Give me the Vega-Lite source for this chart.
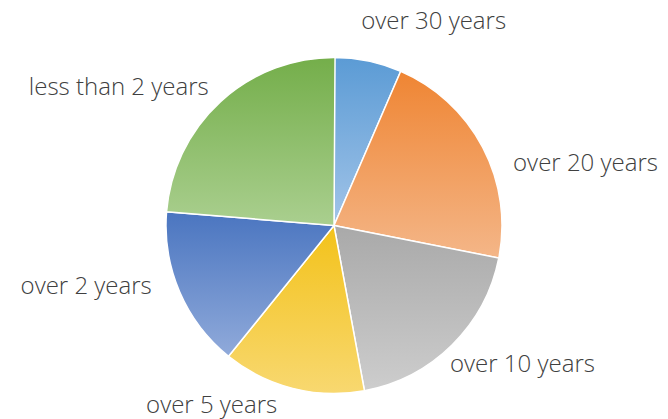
{
  "$schema": "https://vega.github.io/schema/vega-lite/v6.json",
  "width": 668,
  "height": 387,
  "autosize": "none",
  "padding": {"left": 0, "right": 0, "top": 32, "bottom": 0},
  "background": "white",
  "view": {"stroke": null},
  "data": {
    "values": [
      {"label": "over 30 years", "share": 6.5},
      {"label": "over 20 years", "share": 21.6},
      {"label": "over 10 years", "share": 19.0},
      {"label": "over 5 years", "share": 13.7},
      {"label": "over 2 years", "share": 15.5},
      {"label": "less than 2 years", "share": 23.8}
    ]
  },
  "transform": [
    {"window": [{"op": "row_number", "as": "idx"}]},
    {"stack": "share", "groupby": [], "sort": [{"field": "idx", "order": "ascending"}], "as": ["t0", "t1"]},
    {"calculate": "(datum.t0 + datum.t1) / 2", "as": "tm"}
  ],
  "layer": [
    {
      "mark": {"type": "arc", "outerRadius": 168, "stroke": "white", "strokeWidth": 1.5},
      "encoding": {
        "theta": {"field": "t0", "type": "quantitative", "scale": {"domain": [0, 100]}},
        "theta2": {"field": "t1"},
        "fill": {
          "condition": [
            {"test": "datum.label === 'over 30 years'", "value": {"gradient": "linear", "x1": 0, "y1": 0, "x2": 0, "y2": 1, "stops": [{"offset": 0, "color": "#5B9BD5"}, {"offset": 1, "color": "#A2C4E8"}]}},
            {"test": "datum.label === 'over 20 years'", "value": {"gradient": "linear", "x1": 0, "y1": 0, "x2": 0, "y2": 1, "stops": [{"offset": 0, "color": "#EF8533"}, {"offset": 1, "color": "#F4B688"}]}},
            {"test": "datum.label === 'over 10 years'", "value": {"gradient": "linear", "x1": 0, "y1": 0, "x2": 0, "y2": 1, "stops": [{"offset": 0, "color": "#A9A9A9"}, {"offset": 1, "color": "#CDCDCD"}]}},
            {"test": "datum.label === 'over 5 years'", "value": {"gradient": "linear", "x1": 0, "y1": 0, "x2": 0, "y2": 1, "stops": [{"offset": 0, "color": "#F3C21A"}, {"offset": 1, "color": "#F8D870"}]}},
            {"test": "datum.label === 'over 2 years'", "value": {"gradient": "linear", "x1": 0, "y1": 0, "x2": 0, "y2": 1, "stops": [{"offset": 0, "color": "#4A75C0"}, {"offset": 1, "color": "#90AADA"}]}}
          ],
          "value": {"gradient": "linear", "x1": 0, "y1": 0, "x2": 0, "y2": 1, "stops": [{"offset": 0, "color": "#74AE4A"}, {"offset": 1, "color": "#AACF8F"}]}
        }
      }
    },
    {
      "transform": [{"filter": "datum.label === 'over 30 years'"}],
      "mark": {"type": "text", "radius": 208, "align": "left", "baseline": "middle", "dx": -15, "font": "Open Sans", "fontWeight": 300, "fontSize": 24, "color": "#404040"},
      "encoding": {"theta": {"field": "tm", "type": "quantitative"}, "text": {"field": "label"}}
    },
    {
      "transform": [{"filter": "datum.label === 'over 20 years'"}],
      "mark": {"type": "text", "radius": 200, "align": "left", "baseline": "middle", "dx": 2, "dy": 32, "font": "Open Sans", "fontWeight": 300, "fontSize": 24, "color": "#404040"},
      "encoding": {"theta": {"field": "tm", "type": "quantitative"}, "text": {"field": "label"}}
    },
    {
      "transform": [{"filter": "datum.label === 'over 10 years'"}],
      "mark": {"type": "text", "radius": 185, "align": "left", "baseline": "middle", "dx": -14, "dy": 8, "font": "Open Sans", "fontWeight": 300, "fontSize": 24, "color": "#404040"},
      "encoding": {"theta": {"field": "tm", "type": "quantitative"}, "text": {"field": "label"}}
    },
    {
      "transform": [{"filter": "datum.label === 'over 5 years'"}],
      "mark": {"type": "text", "radius": 182, "align": "right", "baseline": "middle", "dx": -12, "dy": 4, "font": "Open Sans", "fontWeight": 300, "fontSize": 24, "color": "#404040"},
      "encoding": {"theta": {"field": "tm", "type": "quantitative"}, "text": {"field": "label"}}
    },
    {
      "transform": [{"filter": "datum.label === 'over 2 years'"}],
      "mark": {"type": "text", "radius": 195, "align": "right", "baseline": "middle", "dx": -3, "dy": -15, "font": "Open Sans", "fontWeight": 300, "fontSize": 24, "color": "#404040"},
      "encoding": {"theta": {"field": "tm", "type": "quantitative"}, "text": {"field": "label"}}
    },
    {
      "transform": [{"filter": "datum.label === 'less than 2 years'"}],
      "mark": {"type": "text", "radius": 190, "align": "right", "baseline": "middle", "dx": 3, "dy": 3, "font": "Open Sans", "fontWeight": 300, "fontSize": 24, "color": "#404040"},
      "encoding": {"theta": {"field": "tm", "type": "quantitative"}, "text": {"field": "label"}}
    }
  ]
}
